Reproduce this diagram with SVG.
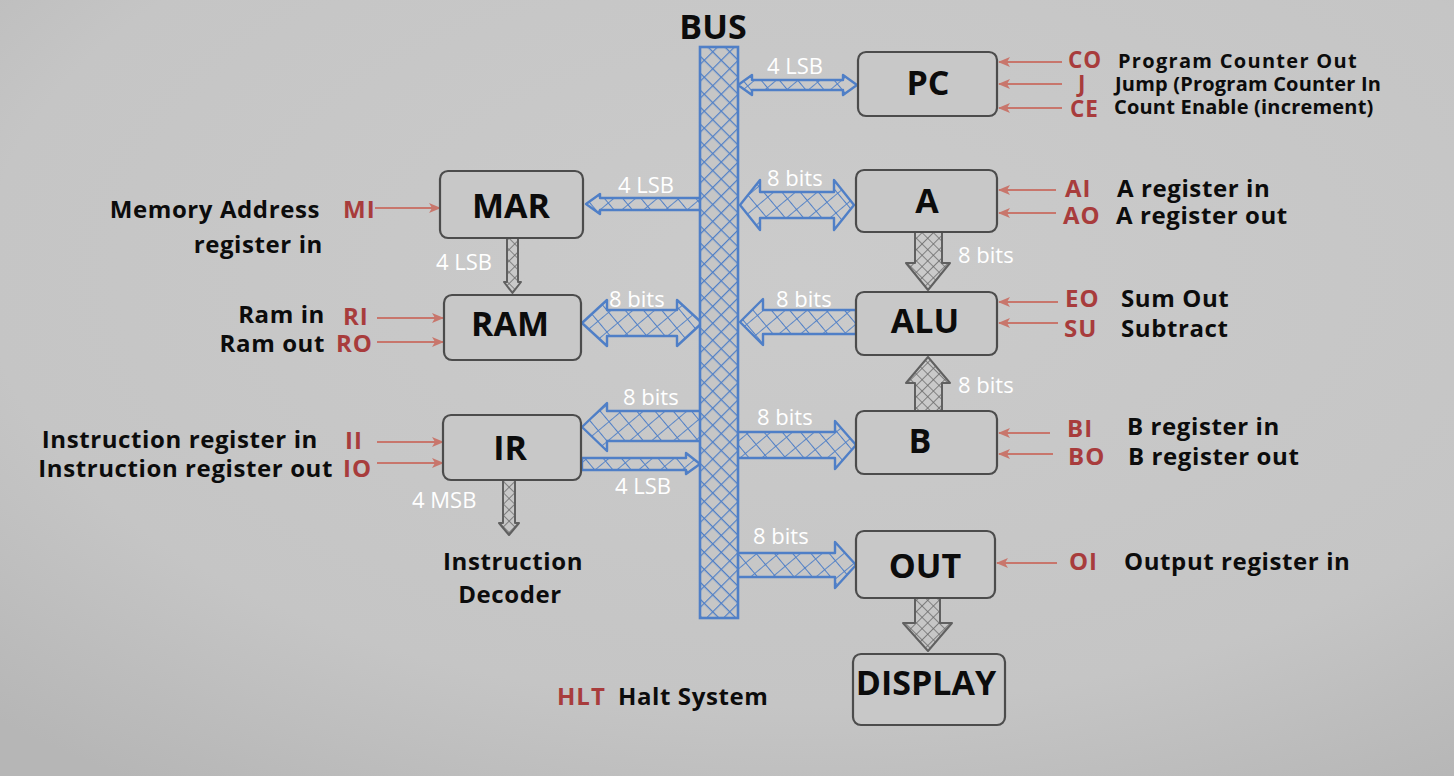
<svg xmlns="http://www.w3.org/2000/svg" width="1454" height="776" viewBox="0 0 1454 776">
<defs>
<radialGradient id="bg" cx="0.55" cy="0.35" r="0.8">
<stop offset="0" stop-color="#cbcbcb"/>
<stop offset="0.7" stop-color="#c5c5c5"/>
<stop offset="1" stop-color="#b6b6b6"/>
</radialGradient>
<pattern id="hB" width="12" height="12" patternUnits="userSpaceOnUse" patternTransform="rotate(45)">
<path d="M0,0 H12 M0,0 V12" stroke="#4f7fc7" stroke-width="2.4" fill="none"/>
</pattern>
<pattern id="hBs" width="14" height="14" patternUnits="userSpaceOnUse" patternTransform="rotate(50)">
<path d="M0,0 H14 M0,0 V14" stroke="#4f7fc7" stroke-width="1.8" fill="none"/>
</pattern>
<pattern id="hG" width="8" height="8" patternUnits="userSpaceOnUse" patternTransform="rotate(45)">
<path d="M0,0 H8 M0,0 V8" stroke="#6a6a6a" stroke-width="1.6" fill="none"/>
</pattern>
<marker id="ra" markerWidth="12" markerHeight="10" refX="11" refY="5" orient="auto" markerUnits="userSpaceOnUse">
<path d="M0,0 L12,5 L0,10 L3,5 Z" fill="#c8766c"/>
</marker>
<style>
.box{fill:#c8c8c8;stroke:#4c4c4c;stroke-width:2.2}
.nl{font-family:"Open Sans","Noto Sans",sans-serif;font-weight:700;font-size:34px;fill:#0c0c0c;text-anchor:middle}
.bw{fill:url(#hBs);stroke:#4f7fc7;stroke-width:2.4;stroke-linejoin:round}
.gw{fill:url(#hG);stroke:#606060;stroke-width:2;stroke-linejoin:round}
.wl{font-family:"Open Sans","Noto Sans",sans-serif;font-size:22px;fill:#ffffff}
.rl{font-family:"Open Sans","Noto Sans",sans-serif;font-weight:700;font-size:24px;letter-spacing:1px;fill:#a83c3c}
.rs{font-size:22.5px}
.bl{font-family:"Open Sans","Noto Sans",sans-serif;font-weight:700;font-size:24px;letter-spacing:0.6px;fill:#0c0c0c}
.sl{font-size:20px;letter-spacing:0.2px}
.cs{stroke:#c8766c;stroke-width:2;fill:none;marker-end:url(#ra)}
</style>
</defs>
<rect width="1454" height="776" fill="url(#bg)"/>

<g id="connectors">
<path class="bw" d="M738,85 L752,75 L752,80 L843,80 L843,75 L857,85 L843,95 L843,90 L752,90 L752,95 Z"/>
<path class="bw" d="M586,204 L600,194 L600,198 L702,198 L702,210 L600,210 L600,214 Z"/>
<path class="bw" d="M740,205 L760,180 L760,192 L834,192 L834,180 L854,205 L834,230 L834,218 L760,218 L760,230 Z"/>
<path class="bw" d="M582,323 L607,300 L607,310 L677,310 L677,300 L702,323 L677,346 L677,336 L607,336 L607,346 Z"/>
<path class="bw" d="M740,322 L763,299 L763,310 L856,310 L856,334 L763,334 L763,345 Z"/>
<path class="bw" d="M582,427 L607,403 L607,411 L702,411 L702,441 L607,441 L607,451 Z"/>
<path class="bw" d="M582,458 L686,458 L686,453 L700,464 L686,474 L686,470 L582,470 Z"/>
<path class="bw" d="M736,432 L835,432 L835,421 L856,445 L835,469 L835,458 L736,458 Z"/>
<path class="bw" d="M736,553 L835,553 L835,542 L856,565 L835,588 L835,577 L736,577 Z"/>
<path class="gw" d="M915,232 L942,232 L942,263 L950,263 L928,290 L906,263 L915,263 Z"/>
<path class="gw" d="M915,411 L942,411 L942,383 L950,383 L928,357 L906,383 L915,383 Z"/>
<path class="gw" d="M915,598 L940,598 L940,623 L952,623 L928,651 L903,623 L915,623 Z"/>
<path class="gw" d="M507,238 L518,238 L518,282 L521,282 L512.5,293 L504,282 L507,282 Z"/>
<path class="gw" d="M503,480 L515,480 L515,523 L519,523 L509,535 L499,523 L503,523 Z"/>
<line class="cs" x1="1062" y1="62" x2="999" y2="62"/>
<line class="cs" x1="1062" y1="84" x2="999" y2="84"/>
<line class="cs" x1="1062" y1="108" x2="999" y2="108"/>
<line class="cs" x1="1056" y1="190" x2="999" y2="190"/>
<line class="cs" x1="1056" y1="213" x2="999" y2="213"/>
<line class="cs" x1="1058" y1="302" x2="999" y2="302"/>
<line class="cs" x1="1058" y1="323" x2="999" y2="323"/>
<line class="cs" x1="1050" y1="433" x2="999" y2="433"/>
<line class="cs" x1="1053" y1="454" x2="999" y2="454"/>
<line class="cs" x1="1057" y1="563" x2="997" y2="563"/>
<line class="cs" x1="375" y1="208" x2="440" y2="208"/>
<line class="cs" x1="377" y1="318" x2="443" y2="318"/>
<line class="cs" x1="377" y1="342" x2="443" y2="342"/>
<line class="cs" x1="377" y1="442" x2="443" y2="442"/>
<line class="cs" x1="377" y1="463" x2="443" y2="463"/>
</g>

<g id="bus">
<rect x="700" y="47" width="38" height="571" fill="#c6c6c6"/>
<rect x="700" y="47" width="38" height="571" fill="url(#hB)" stroke="#4f7fc7" stroke-width="2.6"/>
<text class="nl" x="713" y="39">BUS</text>
</g>

<g id="node-pc"><rect class="box" x="858" y="52" width="139" height="64" rx="8"/><text class="nl" x="928" y="95">PC</text></g>
<g id="node-mar"><rect class="box" x="440" y="171" width="143" height="67" rx="8"/><text class="nl" x="511" y="218">MAR</text></g>
<g id="node-a"><rect class="box" x="856" y="170" width="141" height="62" rx="8"/><text class="nl" x="927" y="213">A</text></g>
<g id="node-ram"><rect class="box" x="444" y="295" width="137" height="65" rx="8"/><text class="nl" x="510" y="336">RAM</text></g>
<g id="node-alu"><rect class="box" x="856" y="292" width="141" height="63" rx="8"/><text class="nl" x="925" y="333">ALU</text></g>
<g id="node-ir"><rect class="box" x="443" y="415" width="138" height="65" rx="8"/><text class="nl" x="510" y="460">IR</text></g>
<g id="node-b"><rect class="box" x="856" y="411" width="141" height="63" rx="8"/><text class="nl" x="920" y="453">B</text></g>
<g id="node-out"><rect class="box" x="856" y="531" width="139" height="67" rx="8"/><text class="nl" x="925" y="578">OUT</text></g>
<g id="node-display"><rect class="box" x="853" y="654" width="152" height="71" rx="8"/><text class="nl" x="926" y="695">DISPLAY</text></g>
<g id="node-decoder">
<text class="bl" x="513" y="570" text-anchor="middle">Instruction</text>
<text class="bl" x="510" y="603" text-anchor="middle">Decoder</text>
</g>

<g id="bus-labels">
<text class="wl" x="767" y="74">4 LSB</text>
<text class="wl" x="618" y="193">4 LSB</text>
<text class="wl" x="767" y="186">8 bits</text>
<text class="wl" x="958" y="263">8 bits</text>
<text class="wl" x="958" y="393">8 bits</text>
<text class="wl" x="436" y="270">4 LSB</text>
<text class="wl" x="609" y="307">8 bits</text>
<text class="wl" x="776" y="307">8 bits</text>
<text class="wl" x="623" y="405">8 bits</text>
<text class="wl" x="615" y="494">4 LSB</text>
<text class="wl" x="757" y="425">8 bits</text>
<text class="wl" x="753" y="544">8 bits</text>
<text class="wl" x="412" y="508">4 MSB</text>
</g>

<g id="signals">
<text class="rl rs" x="1068" y="68">CO</text>
<text class="bl sl" x="1118" y="68" style="letter-spacing:1.3px">Program Counter Out</text>
<text class="rl rs" x="1078" y="92">J</text>
<text class="bl sl" x="1115" y="91">Jump (Program Counter In</text>
<text class="rl rs" x="1070" y="117">CE</text>
<text class="bl sl" x="1114" y="114">Count Enable (increment)</text>
<text class="rl" x="1065" y="197">AI</text>
<text class="bl" x="1117" y="197">A register in</text>
<text class="rl" x="1063" y="224">AO</text>
<text class="bl" x="1116" y="224">A register out</text>
<text class="rl" x="1065" y="307">EO</text>
<text class="bl" x="1121" y="307">Sum Out</text>
<text class="rl" x="1064" y="337">SU</text>
<text class="bl" x="1121" y="337">Subtract</text>
<text class="rl" x="1067" y="437">BI</text>
<text class="bl" x="1127" y="435">B register in</text>
<text class="rl" x="1068" y="465">BO</text>
<text class="bl" x="1128" y="465">B register out</text>
<text class="rl" x="1069" y="570">OI</text>
<text class="bl" x="1124" y="570">Output register in</text>
<text class="bl" x="320" y="218" text-anchor="end">Memory Address</text>
<text class="bl" x="323" y="253" text-anchor="end">register in</text>
<text class="rl" x="343" y="218">MI</text>
<text class="bl" x="325" y="323" text-anchor="end">Ram in</text>
<text class="rl" x="343" y="325">RI</text>
<text class="bl" x="325" y="352" text-anchor="end">Ram out</text>
<text class="rl" x="336" y="352">RO</text>
<text class="bl" x="318" y="448" text-anchor="end">Instruction register in</text>
<text class="rl" x="345" y="449">II</text>
<text class="bl" x="333" y="477" text-anchor="end">Instruction register out</text>
<text class="rl" x="343" y="477">IO</text>
<text class="rl" x="557" y="705">HLT</text>
<text class="bl" x="618" y="705">Halt System</text>
</g>
</svg>
